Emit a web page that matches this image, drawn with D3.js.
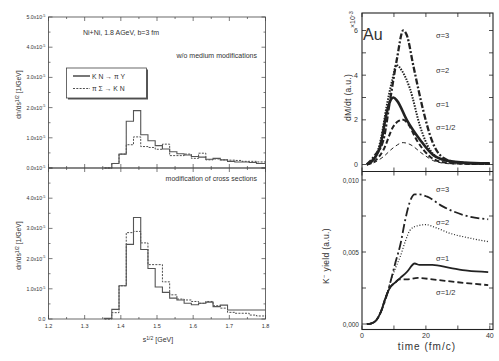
<!DOCTYPE html>
<html>
<head>
<meta charset="utf-8">
<script src="https://cdn.jsdelivr.net/npm/d3@7"></script>
<style>
body { margin: 0; background: #fff; }
text { font-family: "Liberation Sans", Arial, sans-serif; fill: #333; }
</style>
</head>
<body>
<svg id="chart" width="499" height="361"></svg>
<script>
// ---- left: histograms (values in units of 1e-5) ----
const binEdges = [1.355, 1.375, 1.395, 1.415, 1.435, 1.455, 1.475, 1.495, 1.515, 1.535, 1.555,
  1.575, 1.595, 1.615, 1.635, 1.655, 1.675, 1.695, 1.715, 1.735, 1.755, 1.775, 1.8];
const topSolid = [0, 0.15, 0.46, 1.55, 1.9, 1.1, 0.9, 0.74, 0.63, 0.54, 0.47, 0.43, 0.38, 0.36, 0.29, 0.32, 0.27, 0.22, 0.2, 0.2, 0.18, 0.15];
const topDashed = [0, 0.15, 0.46, 0.77, 1.03, 0.71, 0.68, 0.62, 0.79, 0.41, 0.41, 0.46, 0.32, 0.49, 0.27, 0.3, 0.27, 0.26, 0.25, 0.22, 0.22, 0.2];
const botSolid = [0.02, 0.32, 1.1, 2.47, 3.36, 2.3, 1.67, 1.06, 0.88, 0.69, 0.63, 0.52, 0.47, 0.52, 0.56, 0.41, 0.46, 0.3, 0.3, 0.3, 0.3, 0.3];
const botDashed = [0, 0.21, 1.1, 2.86, 2.9, 2.52, 1.8, 1.8, 1.23, 0.8, 0.66, 0.63, 0.58, 0.52, 0.58, 0.44, 0.36, 0.22, 0.19, 0.19, 0.13, 0.1];
const histXTicks = [1.2, 1.3, 1.4, 1.5, 1.6, 1.7, 1.8];
const histYTicks = [0, 1, 2, 3, 4, 5];

// ---- right: rate dM/dt (x 1e-3) and K- yield vs time ----
const rateLabels = ['σ=3', 'σ=2', 'σ=1', 'σ=1/2'];
const rateS3 = [[1.5,0],[4,0.4],[6.7,1.1],[8.8,2.9],[10.9,4.7],[12.9,6.0],[14,5.8],[16.1,4.4],[19.2,2.4],[21.8,1.1],[25.4,0.3],[29.6,0.1],[35,0.05],[40,0.03]];
const rateS2 = [[1.5,0],[4,0.3],[6,1.2],[7.7,2.6],[9.5,3.8],[10.8,4.45],[12.5,4.2],[15,3.4],[18.2,1.7],[21.3,0.65],[25.4,0.2],[30,0.08],[40,0.02]];
const rateS1 = [[1.5,0],[4,0.3],[5.7,0.8],[7.7,2.3],[9,2.9],[9.8,3.0],[11,2.85],[14,2.0],[18.2,1.1],[22.3,0.42],[27.5,0.15],[35,0.06],[40,0.05]];
const rateSh = [[1.5,0],[4,0.15],[6.7,0.65],[9.8,1.7],[11.5,1.95],[12.9,2.0],[14.5,1.8],[17.1,1.1],[21.3,0.35],[25.4,0.1],[32,0.03],[40,0.02]];
const rateLow = [[1.5,0],[4,0.1],[6.7,0.35],[9.8,0.75],[12.9,0.98],[15,0.9],[19.2,0.45],[23.3,0.12],[28,0.03],[40,0.01]];
const yieldS3 = [[1.5,0],[3,0.00005],[4.6,0.0003],[6,0.0009],[7.5,0.0018],[9,0.003],[10.5,0.0043],[12,0.0055],[13.5,0.0072],[15,0.0085],[16.5,0.009],[18,0.009],[20.4,0.00884],[25.4,0.00815],[31.7,0.00757],[39.5,0.00727]];
const yieldS2 = [[1.5,0],[3,0.00005],[4.6,0.0003],[6,0.0009],[7.5,0.0019],[9,0.003],[10.5,0.0039],[12,0.0047],[13.5,0.0057],[15,0.0065],[17,0.0068],[20,0.0069],[23,0.0067],[27.5,0.0063],[33,0.006],[39.5,0.00572]];
const yieldS1 = [[1.5,0],[3,0.00005],[4.6,0.0003],[6,0.0009],[7.5,0.0019],[9,0.0026],[10.5,0.0029],[12,0.0032],[14,0.0036],[16.5,0.0042],[18,0.0041],[22,0.0041],[27.5,0.0039],[33,0.0037],[39.5,0.0036]];
const yieldSh = [[1.5,0],[3,0.00005],[4.6,0.0003],[6,0.0009],[7.5,0.0019],[9,0.0026],[10.5,0.0029],[11.5,0.0031],[14,0.0031],[17.5,0.0032],[22,0.0031],[30,0.0029],[39.5,0.0027]];
const timeTicks = [0, 10, 20, 30, 40];
const rateTicks = [0, 1, 2, 3, 4, 5, 6];
const yieldTicks = [0, 0.0025, 0.005, 0.0075, 0.01];

const svg = d3.select('#chart');
const ink = '#222';

// ================= left panels =================
const xH = d3.scaleLinear().domain([1.2, 1.8]).range([48.5, 265.5]);
const yHTop = d3.scaleLinear().domain([0, 5]).range([168, 17]);
const yHBot = d3.scaleLinear().domain([0, 5]).range([319, 168]);

function histPath(vals, y) {
  const pts = [[binEdges[0], 0]].concat(vals.map((v, i) => [binEdges[i], v]));
  pts.push([binEdges[binEdges.length - 1], vals[vals.length - 1]]);
  return d3.line().x(d => xH(d[0])).y(d => y(d[1])).curve(d3.curveStepAfter)(pts);
}

function histFrame(y, isBottom) {
  const g = svg.append('g');
  const [y0, y1] = y.range();
  g.append('rect').attr('x', xH(1.2)).attr('y', y1).attr('width', xH(1.8) - xH(1.2)).attr('height', y0 - y1)
    .attr('fill', 'none').attr('stroke', '#444').attr('stroke-width', 0.8);
  const minorX = d3.range(1.2, 1.8001, 0.05);
  // x ticks on top and bottom, pointing inward
  g.selectAll('.xt').data(minorX).join('line')
    .attr('x1', d => xH(d)).attr('x2', d => xH(d))
    .attr('y1', y0).attr('y2', (d, i) => y0 - (i % 2 ? 2 : 4))
    .attr('stroke', '#444').attr('stroke-width', 0.7);
  g.selectAll('.xt2').data(minorX).join('line')
    .attr('x1', d => xH(d)).attr('x2', d => xH(d))
    .attr('y1', y1).attr('y2', (d, i) => y1 + (i % 2 ? 2 : 4))
    .attr('stroke', '#444').attr('stroke-width', 0.7);
  const minorY = d3.range(0, 5.001, 0.5);
  g.selectAll('.yt').data(minorY).join('line')
    .attr('x1', xH(1.2)).attr('x2', (d, i) => xH(1.2) + (i % 2 ? 2 : 4))
    .attr('y1', d => y(d)).attr('y2', d => y(d)).attr('stroke', '#444').attr('stroke-width', 0.7);
  g.selectAll('.yt2').data(minorY).join('line')
    .attr('x1', xH(1.8)).attr('x2', (d, i) => xH(1.8) - (i % 2 ? 2 : 4))
    .attr('y1', d => y(d)).attr('y2', d => y(d)).attr('stroke', '#444').attr('stroke-width', 0.7);
  // y tick labels
  const lab = g.selectAll('.yl').data(histYTicks.filter(d => !(isBottom && d === 5))).join('text')
    .attr('x', xH(1.2) - 3).attr('y', d => y(d) + 2).attr('text-anchor', 'end')
    .attr('font-size', 5.2);
  lab.each(function (d) {
    const t = d3.select(this);
    if (isBottom && d === 0) { t.text('0.0'); return; }
    t.append('tspan').text(d.toFixed(1) + 'x10');
    t.append('tspan').attr('dy', -2.2).attr('font-size', 3.8).text('-5');
  });
  // y axis title
  const yt = g.append('text').attr('transform', `translate(21,${(y0 + y1) / 2 + 2}) rotate(-90)`)
    .attr('text-anchor', 'middle').attr('font-size', 6.8);
  yt.append('tspan').text('dn/ds');
  yt.append('tspan').attr('dy', -2.5).attr('font-size', 5).text('1/2');
  yt.append('tspan').attr('dy', 2.5).text(' [1/GeV]');
  return g;
}

histFrame(yHTop, false);
histFrame(yHBot, true);

svg.append('path').attr('d', histPath(topDashed, yHTop)).attr('fill', 'none').attr('stroke', ink)
  .attr('stroke-width', 0.8).attr('stroke-dasharray', '2,1.3');
svg.append('path').attr('d', histPath(topSolid, yHTop)).attr('fill', 'none').attr('stroke', '#555')
  .attr('stroke-width', 1.1);
svg.append('path').attr('d', histPath(botDashed, yHBot)).attr('fill', 'none').attr('stroke', ink)
  .attr('stroke-width', 0.8).attr('stroke-dasharray', '2,1.3');
svg.append('path').attr('d', histPath(botSolid, yHBot)).attr('fill', 'none').attr('stroke', '#555')
  .attr('stroke-width', 1.1);

// x tick labels, bottom
svg.selectAll('.hx').data(histXTicks).join('text')
  .attr('x', d => xH(d)).attr('y', 328).attr('text-anchor', 'middle').attr('font-size', 5.5)
  .text(d => d.toFixed(1));
const xt = svg.append('text').attr('x', 158).attr('y', 342).attr('text-anchor', 'middle').attr('font-size', 7);
xt.append('tspan').text('s');
xt.append('tspan').attr('dy', -2.5).attr('font-size', 5).text('1/2');
xt.append('tspan').attr('dy', 2.5).text(' [GeV]');

svg.append('text').attr('x', 121).attr('y', 35).attr('text-anchor', 'middle').attr('font-size', 7)
  .text('Ni+Ni, 1.8 AGeV, b=3 fm');
svg.append('text').attr('x', 257).attr('y', 58).attr('text-anchor', 'end').attr('font-size', 7)
  .text('w/o medium modifications');
svg.append('text').attr('x', 257).attr('y', 181).attr('text-anchor', 'end').attr('font-size', 7)
  .text('modification of cross sections');

// legend
const leg = svg.append('g');
leg.append('rect').attr('x', 68).attr('y', 69.5).attr('width', 80).attr('height', 30).attr('fill', '#555');
leg.append('rect').attr('x', 66.5).attr('y', 68).attr('width', 80).attr('height', 30)
  .attr('fill', '#fff').attr('stroke', '#444').attr('stroke-width', 0.8);
leg.append('line').attr('x1', 73).attr('x2', 90).attr('y1', 76).attr('y2', 76).attr('stroke', '#555').attr('stroke-width', 1.6);
leg.append('line').attr('x1', 73).attr('x2', 90).attr('y1', 88.5).attr('y2', 88.5).attr('stroke', ink)
  .attr('stroke-width', 0.8).attr('stroke-dasharray', '2,1.3');
leg.append('text').attr('x', 92).attr('y', 78.5).attr('font-size', 6.8).text('K N \u2192 \u03c0 Y');
leg.append('text').attr('x', 92).attr('y', 91).attr('font-size', 6.8).text('\u03c0 \u03a3 \u2192 K N');

// ================= right panels =================
const xT = d3.scaleLinear().domain([0, 41]).range([362, 493]);
const yR = d3.scaleLinear().domain([0, 6]).range([164.5, 30.5]);
const yY = d3.scaleLinear().domain([0, 0.01]).range([324, 180]);
const rTop = 13, rMid = 171.5, rBot = 329.5;

svg.append('rect').attr('x', xT(0)).attr('y', rTop).attr('width', xT(41) - xT(0)).attr('height', rBot - rTop)
  .attr('fill', 'none').attr('stroke', ink).attr('stroke-width', 1.1);
svg.append('line').attr('x1', xT(0)).attr('x2', xT(41)).attr('y1', rMid).attr('y2', rMid)
  .attr('stroke', ink).attr('stroke-width', 1);

function vTicks(yPos, dir, len) {
  svg.append('g').selectAll('line').data(timeTicks).join('line')
    .attr('x1', d => xT(d)).attr('x2', d => xT(d))
    .attr('y1', yPos).attr('y2', yPos + dir * len).attr('stroke', ink).attr('stroke-width', 0.8);
}
vTicks(rTop, 1, 4); vTicks(rMid, -1, 4); vTicks(rMid, 1, 4); vTicks(rBot, -1, 4);

function hTicks(vals, y) {
  const g = svg.append('g');
  g.selectAll('.a').data(vals).join('line')
    .attr('x1', xT(0)).attr('x2', xT(0) + 4).attr('y1', d => y(d)).attr('y2', d => y(d))
    .attr('stroke', ink).attr('stroke-width', 0.8);
  g.selectAll('.b').data(vals).join('line')
    .attr('x1', xT(41)).attr('x2', xT(41) - 4).attr('y1', d => y(d)).attr('y2', d => y(d))
    .attr('stroke', ink).attr('stroke-width', 0.8);
}
hTicks(rateTicks, yR);
hTicks(yieldTicks, yY);

svg.selectAll('.rl').data([0, 2, 4, 6]).join('text')
  .attr('x', 358).attr('y', d => yR(d) + 2.5).attr('text-anchor', 'end').attr('font-size', 7).text(d => d);
svg.selectAll('.yl').data([0, 0.005, 0.01]).join('text')
  .attr('x', 359).attr('y', d => yY(d) + 2.5).attr('text-anchor', 'end').attr('font-size', 6.5)
  .text(d => d3.format('.3f')(d).replace('.', ','));
svg.selectAll('.tl').data([0, 20, 40]).join('text')
  .attr('x', d => xT(d)).attr('y', 338).attr('text-anchor', 'middle').attr('font-size', 7).text(d => d);

const sx = svg.append('text').attr('transform', 'translate(355,28) rotate(-90)').attr('font-size', 7);
sx.append('tspan').text('\u00d710');
sx.append('tspan').attr('dy', -2.5).attr('font-size', 5.5).text('-3');
svg.append('text').attr('transform', `translate(351,${yR(3)}) rotate(-90)`).attr('text-anchor', 'middle')
  .attr('font-size', 8.5).attr('letter-spacing', 0.3).text('dM/dt  (a.u.)');
const ky = svg.append('text').attr('transform', `translate(329,${yY(0.005) + 4}) rotate(-90)`)
  .attr('text-anchor', 'middle').attr('font-size', 8.5).attr('letter-spacing', 0.3);
ky.append('tspan').text('K');
ky.append('tspan').attr('dy', -3).attr('font-size', 6).text('\u2212');
ky.append('tspan').attr('dy', 3).text(' yield  (a.u.)');
svg.append('text').attr('x', xT(20) + 1).attr('y', 350).attr('text-anchor', 'middle').attr('font-size', 10)
  .attr('letter-spacing', 1).attr('font-weight', 300).text('time  (fm/c)');
svg.append('text').attr('x', 363).attr('y', 40).attr('font-size', 16).text('Au');

const lineR = d3.line().x(d => xT(d[0])).y(d => yR(d[1])).curve(d3.curveMonotoneX);
const lineY = d3.line().x(d => xT(d[0])).y(d => yY(d[1])).curve(d3.curveMonotoneX);

const rateSeries = [
  { data: rateLow, w: 1, dash: '4,3' },
  { data: rateSh, w: 2, dash: '5,2.5' },
  { data: rateS1, w: 2.6, dash: null },
  { data: rateS2, w: 2, dash: '1.5,1.3' },
  { data: rateS3, w: 2.3, dash: '6,2,2,2' },
];
rateSeries.forEach(s => {
  svg.append('path').attr('d', lineR(s.data)).attr('fill', 'none').attr('stroke', ink)
    .attr('stroke-width', s.w).attr('stroke-dasharray', s.dash);
});
const yieldSeries = [
  { data: yieldSh, w: 1.8, dash: '6,3' },
  { data: yieldS1, w: 1.8, dash: null },
  { data: yieldS2, w: 1.2, dash: '1,1.8' },
  { data: yieldS3, w: 1.8, dash: '9,3,2,3' },
];
yieldSeries.forEach(s => {
  svg.append('path').attr('d', lineY(s.data)).attr('fill', 'none').attr('stroke', ink)
    .attr('stroke-width', s.w).attr('stroke-dasharray', s.dash);
});

const rateLabelY = [38, 73, 107, 130];
const yieldLabelY = [192, 225, 261, 295];
svg.selectAll('.sl1').data(rateLabels).join('text')
  .attr('x', 436).attr('y', (d, i) => rateLabelY[i]).attr('font-size', 7.5).text(d => d);
svg.selectAll('.sl2').data(rateLabels).join('text')
  .attr('x', 436).attr('y', (d, i) => yieldLabelY[i]).attr('font-size', 7.5).text(d => d);
</script>
</body>
</html>
